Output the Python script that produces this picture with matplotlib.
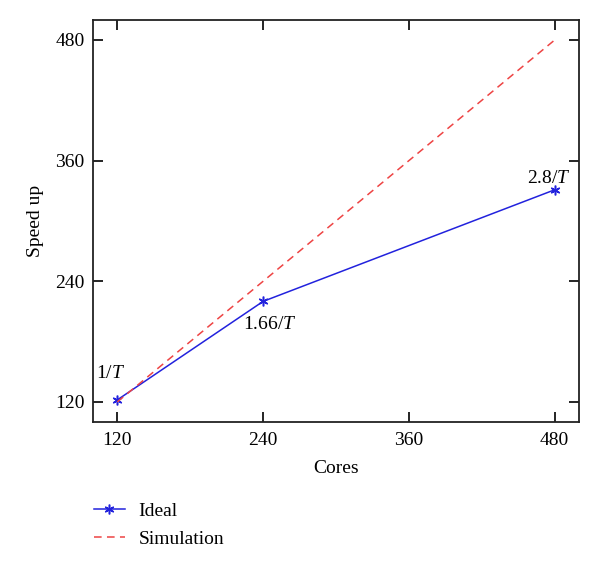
import matplotlib
matplotlib.use("Agg")
import matplotlib.pyplot as plt

plt.rcParams['font.family'] = ['Liberation Serif', 'DejaVu Serif']
plt.rcParams['mathtext.fontset'] = 'custom'
plt.rcParams['mathtext.it'] = 'Liberation Serif:italic'
plt.rcParams['mathtext.rm'] = 'Liberation Serif'

cores = [120, 240, 480]
ideal = [122, 220, 331]
simulation = [120, 480]
sim_x = [120, 480]
labels = ["1/$T$", "1.66/$T$", "2.8/$T$"]
xticks = [120, 240, 360, 480]
yticks = [120, 240, 360, 480]

FS = 14

fig = plt.figure(figsize=(6, 5.68), dpi=100)
ax = fig.add_axes([0.155, 0.257, 0.81, 0.708])

l1, = ax.plot(cores, ideal, color='#2222dd', lw=1.1, marker=(6, 2, 0), ms=7,
              mew=1.1, label='Ideal')
l2, = ax.plot(sim_x, simulation, color='#ee4444', lw=1.1, ls=(0, (5, 3.5)),
              label='Simulation')

ax.set_xlim(100, 500)
ax.set_ylim(100, 500)
ax.set_xticks(xticks)
ax.set_yticks(yticks)
ax.tick_params(direction='in', length=7, width=1.2, top=True, right=True,
               labelsize=FS, pad=6)
ax.tick_params(axis='x', pad=7)
ax.set_xticklabels([str(t) for t in xticks])
ax.set_yticklabels([str(t) for t in yticks])
for s in ax.spines.values():
    s.set_linewidth(1.3)
    s.set_color('#222222')
ax.set_xlabel('Cores', fontsize=FS, labelpad=8)
ax.set_ylabel('Speed up', fontsize=FS, labelpad=8)

offsets = [(-5, 19), (5, -17), (-4, 8)]
for x, y, t, (dx, dy) in zip(cores, ideal, labels, offsets):
    ax.annotate(t, (x, y), xytext=(dx, dy), textcoords='offset points',
                ha='center', va='center', fontsize=FS)

fig.legend(handles=[l1, l2], loc='upper left', bbox_to_anchor=(0.156, 0.116),
           frameon=False, fontsize=FS, handlelength=1.6, labelspacing=0.55,
           handletextpad=0.7, borderaxespad=0, borderpad=0)

fig.savefig('out.png', dpi=100)
